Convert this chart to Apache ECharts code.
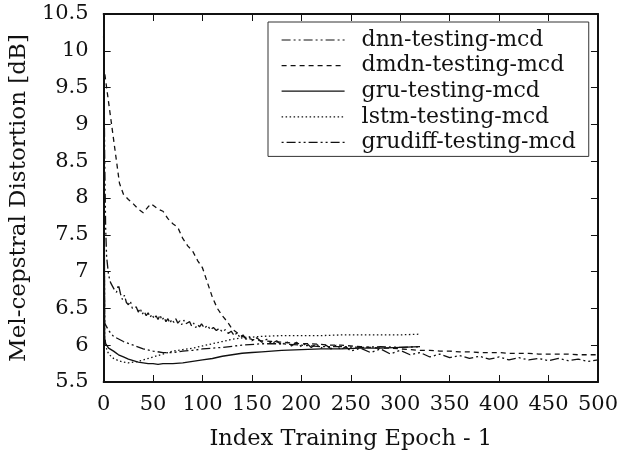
<!DOCTYPE html>
<html>
<head>
<meta charset="utf-8">
<script src="https://cdn.jsdelivr.net/npm/echarts@6/dist/echarts.min.js"></script>
<style>html,body{margin:0;padding:0;background:#fff;}#c{width:621px;height:459px;}</style>
</head>
<body>
<div id="c"></div>
<script>
// ---- data ----
const seriesNames = ['dnn-testing-mcd','dmdn-testing-mcd','gru-testing-mcd','lstm-testing-mcd','grudiff-testing-mcd'];
const xTicks = [0,50,100,150,200,250,300,350,400,450,500];
const yTicks = [5.5,6,6.5,7,7.5,8,8.5,9,9.5,10,10.5];

const dnnEpochs = [0,1,2,3,5,7,9,11,13,15,17,19,21,23,25,27,29,31,33,35,37,39,41,43,45,47,49,51,53,55,57,59,61,63,65,67,69,71,73,75,77,79,81,83,85,87,89,91,93,95,97,99,102,105,108,111,114,117,120,123,126,129,132,135,138,141,144,147,150,155,160,165,170,175,180,185,190,195,200,205,210,215,220,225,230,235,240,245,250,260,270,280,290,300,310,320,330,340,350,360,370,380,390,400,410,420,430,440,450,460,470,480,490,500];
const dnnMcd = [10.45,8.6,7.6,7.2,6.95,6.85,6.8,6.75,6.72,6.82,6.7,6.62,6.68,6.58,6.55,6.6,6.5,6.48,6.52,6.45,6.5,6.42,6.46,6.4,6.44,6.38,6.42,6.36,6.4,6.35,6.41,6.34,6.38,6.32,6.36,6.3,6.35,6.31,6.36,6.3,6.33,6.28,6.34,6.29,6.27,6.32,6.26,6.3,6.24,6.28,6.25,6.29,6.23,6.27,6.21,6.24,6.2,6.23,6.18,6.21,6.16,6.19,6.13,6.17,6.1,6.14,6.08,6.12,6.06,6.1,6.04,6.08,6.02,6.06,6.0,6.05,5.99,6.04,5.98,6.03,5.97,6.02,5.96,6.0,5.95,6.0,5.94,5.98,5.92,5.96,5.9,5.95,5.88,5.93,5.87,5.9,5.84,5.88,5.83,5.86,5.82,5.85,5.81,5.84,5.8,5.83,5.8,5.82,5.79,5.82,5.79,5.81,5.78,5.8];

const dmdnEpochs = [0,2,5,8,10,13,16,20,25,30,35,40,45,48,52,55,60,65,70,75,80,85,90,95,100,105,110,115,120,125,130,135,140,145,150,160,170,180,190,200,210,220,230,240,250,260,270,280,290,300,310,320,330,340,350,360,370,380,390,400,410,420,430,440,450,460,470,480,490,500];
const dmdnMcd = [9.8,9.6,9.3,9.0,8.8,8.5,8.2,8.05,7.98,7.92,7.85,7.8,7.88,7.92,7.88,7.85,7.82,7.72,7.65,7.6,7.45,7.35,7.28,7.15,7.05,6.85,6.65,6.5,6.4,6.32,6.22,6.17,6.12,6.1,6.08,6.06,6.05,6.04,6.03,6.02,6.02,6.01,6.0,6.0,5.99,5.98,5.97,5.96,5.96,5.95,5.94,5.93,5.93,5.92,5.92,5.91,5.91,5.9,5.9,5.9,5.89,5.89,5.89,5.88,5.88,5.88,5.88,5.87,5.87,5.87];

const gruEpochs = [0,1,2,5,10,15,20,25,30,35,40,45,50,55,60,70,80,90,100,110,120,130,140,150,160,180,200,220,240,260,280,300,320];
const gruMcd = [10.2,6.1,6.02,5.96,5.92,5.87,5.84,5.81,5.79,5.77,5.76,5.75,5.75,5.74,5.75,5.75,5.76,5.78,5.8,5.82,5.85,5.87,5.89,5.9,5.91,5.93,5.94,5.95,5.95,5.96,5.96,5.97,5.98];

const lstmEpochs = [0,1,3,5,10,15,20,25,30,35,40,50,60,70,80,90,100,110,120,130,140,150,160,180,200,220,240,260,280,300,320];
const lstmMcd = [9.6,6.1,5.95,5.88,5.82,5.79,5.77,5.76,5.77,5.78,5.8,5.84,5.88,5.92,5.94,5.96,5.99,6.02,6.05,6.08,6.1,6.11,6.12,6.13,6.13,6.13,6.14,6.14,6.14,6.14,6.15];

const grudiffEpochs = [0,1,5,10,20,30,40,50,60,70,80,90,100,120,140,160,180,200,220,240,260,280,300,320];
const grudiffMcd = [8.8,6.3,6.2,6.12,6.05,6.0,5.95,5.92,5.9,5.9,5.92,5.93,5.95,5.97,6.0,6.02,6.02,6.0,5.98,5.98,5.97,5.98,5.97,5.98];

// ---- chart ----
const FONT = 'DejaVu Serif';
const INK = '#111';
function pairs(xs, ys){ return xs.map((x,i)=>[x, ys[i]]); }
const styles = [
  {type:[9,3,2,3,2,3], width:1.3},  // dnn: dash-dot-dot
  {type:[5,4], width:1.3},          // dmdn: dashed
  {type:'solid', width:1.4},        // gru
  {type:[1.5,2.5], width:1.3},      // lstm: dotted
  {type:[2,3,9,3,2,3], width:1.3}   // grudiff
];
const dataSets = [pairs(dnnEpochs,dnnMcd), pairs(dmdnEpochs,dmdnMcd), pairs(gruEpochs,gruMcd), pairs(lstmEpochs,lstmMcd), pairs(grudiffEpochs,grudiffMcd)];

const chart = echarts.init(document.getElementById('c'), null, {renderer:'canvas'});
const axisCommon = {
  axisLine:{show:true, onZero:false, lineStyle:{color:INK, width:2}},
  axisTick:{show:true, inside:true, length:7, lineStyle:{color:INK, width:1}},
  splitLine:{show:false}
};
chart.setOption({
  animation:false,
  backgroundColor:'#fff',
  grid:{left:103, right:22, top:14, bottom:77, containLabel:false},
  legend:{
    orient:'vertical', left:268, top:22,
    padding:[7,13,3,13], itemGap:3.6, itemWidth:63, itemHeight:14,
    borderColor:'#333', borderWidth:1, backgroundColor:'#fff',
    itemStyle:{opacity:0},
    lineStyle:{width:1.2},
    textStyle:{fontFamily:FONT, fontSize:22, color:INK, lineHeight:21, padding:[0,0,0,12]},
    data:seriesNames
  },
  xAxis:[
    Object.assign({type:'value', min:0, max:500, interval:50, position:'bottom',
      name:'Index Training Epoch - 1', nameLocation:'middle', nameGap:46,
      nameTextStyle:{fontFamily:FONT, fontSize:22.5, color:INK},
      axisLabel:{fontFamily:FONT, fontSize:21, color:INK, margin:12, showMaxLabel:true, showMinLabel:true}}, axisCommon),
    Object.assign({type:'value', min:0, max:500, interval:50, position:'top', axisLabel:{show:false}}, axisCommon)
  ],
  yAxis:[
    Object.assign({type:'value', min:5.5, max:10.5, interval:0.5, position:'left',
      name:'Mel-cepstral Distortion [dB]', nameLocation:'middle', nameGap:66,
      nameTextStyle:{fontFamily:FONT, fontSize:23, color:INK},
      axisLabel:{fontFamily:FONT, fontSize:21, color:INK, margin:15,
        formatter:v=>String(Math.round(v*10)/10)}}, axisCommon),
    Object.assign({type:'value', min:5.5, max:10.5, interval:0.5, position:'right', axisLabel:{show:false}}, axisCommon)
  ],
  series: seriesNames.map((n,i)=>({
    name:n, type:'line', data:dataSets[i], showSymbol:false, symbol:'none',
    clip:true, smooth:false, z:3,
    lineStyle:{color:INK, type:styles[i].type, width:styles[i].width},
    itemStyle:{color:INK}
  }))
});
</script>
</body>
</html>
